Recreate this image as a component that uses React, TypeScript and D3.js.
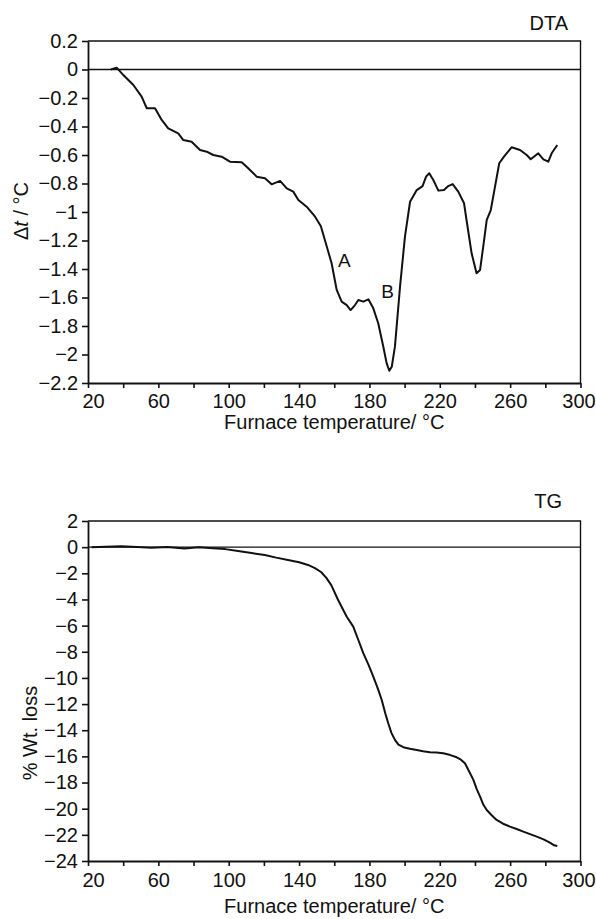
import React, { useEffect, useRef } from 'react';
import * as d3 from 'd3';

// DTA trace: furnace temperature (°C) vs Δt (°C)
const dtaTemp = [33, 36.3, 40.1, 45.8, 50.5, 53.4, 58.1, 61.9, 65.6, 71.3, 74.2, 78.9, 83.7, 87.5, 91.2, 96.0, 100.7, 107.4, 111.1, 115.9, 120.6, 124.4, 129.2, 133.0, 136.7, 139.6, 144.3, 149.1, 152.4, 155.7, 158.5, 161.4, 164.2, 167.1, 169.3, 171.8, 173.7, 176.5, 179.4, 182.2, 185.0, 187.9, 189.8, 191.3, 192.7, 194.5, 197.4, 200.2, 203.1, 206.9, 210.2, 212.2, 214.0, 216.3, 219.2, 222.4, 224.8, 227.3, 230.5, 233.8, 235.2, 238.1, 240.9, 242.9, 244.7, 246.7, 249.0, 251.4, 253.8, 256.5, 260.8, 265.6, 269.4, 271.7, 276.0, 278.9, 281.7, 283.6, 286.8];
const dtaDelta = [0, 0.013, -0.039, -0.109, -0.19, -0.272, -0.272, -0.354, -0.413, -0.448, -0.495, -0.507, -0.565, -0.577, -0.6, -0.612, -0.647, -0.651, -0.693, -0.752, -0.763, -0.806, -0.782, -0.834, -0.857, -0.916, -0.963, -1.033, -1.1, -1.24, -1.36, -1.547, -1.629, -1.653, -1.688, -1.653, -1.618, -1.629, -1.613, -1.676, -1.781, -1.945, -2.062, -2.114, -2.086, -1.945, -1.524, -1.173, -0.928, -0.846, -0.818, -0.752, -0.728, -0.775, -0.85, -0.846, -0.818, -0.804, -0.857, -0.939, -1.056, -1.29, -1.43, -1.407, -1.243, -1.056, -0.986, -0.822, -0.658, -0.612, -0.546, -0.565, -0.6, -0.63, -0.588, -0.63, -0.647, -0.588, -0.53];

// TG trace: furnace temperature (°C) vs % weight loss
const tgTemp = [22, 30, 38.9, 48, 56, 65, 74.8, 83, 91, 98, 105.3, 113, 120.5, 127, 133.7, 140, 145.1, 149, 152.5, 155.5, 158.3, 162.2, 167.1, 170.8, 173.7, 176.5, 179.5, 182.2, 185, 187.0, 189, 190.7, 192.5, 194.5, 196.5, 199.3, 203, 206.9, 210.5, 214.4, 218, 222.0, 226, 229.6, 232, 234.3, 236.5, 239.1, 241, 242.9, 244.8, 246.7, 249.5, 252.3, 256, 259.9, 263.7, 267.5, 271.3, 275.1, 279, 282.6, 285, 286.8];
const tgLoss = [0, 0.03, 0.07, 0.02, -0.04, 0.02, -0.1, 0.0, -0.09, -0.15, -0.3, -0.45, -0.6, -0.8, -0.98, -1.15, -1.36, -1.6, -1.9, -2.35, -2.9, -4.04, -5.32, -6.08, -7.1, -8.11, -9.0, -9.9, -10.9, -11.69, -12.7, -13.47, -14.2, -14.74, -15.1, -15.3, -15.42, -15.51, -15.6, -15.68, -15.7, -15.76, -15.9, -16.07, -16.25, -16.53, -17.1, -17.8, -18.5, -19.08, -19.7, -20.1, -20.5, -20.86, -21.15, -21.37, -21.55, -21.75, -21.95, -22.14, -22.35, -22.6, -22.8, -22.85];

// axes
const tempTicks = d3.range(20, 301, 20);
const dtaTicks = [0.2, 0, -0.2, -0.4, -0.6, -0.8, -1, -1.2, -1.4, -1.6, -1.8, -2, -2.2];
const tgTicks = [2, 0, -2, -4, -6, -8, -10, -12, -14, -16, -18, -20, -22, -24];

// peak annotations on the DTA trace
const peakLabels = ['A', 'B'];
const peakTemp = [165.8, 190.3];
const peakDelta = [-1.34, -1.56];

const FONT = '"Liberation Sans", Arial, Helvetica, sans-serif';

const App = () => {
  const svgRef = useRef<SVGSVGElement>(null);

  useEffect(() => {
    const svg = d3.select(svgRef.current);
    svg.selectAll('*').remove();

    const left = 88;
    const right = 580.5;

    const drawPanel = (opts: {
      top: number; bottom: number; yDomain: [number, number]; yTicks: number[];
      yFormat: (d: number) => string; xs: number[]; ys: number[];
      tag: string; tagX: number; tagY: number; xLabelY: number; xTitleY: number;
      yTitle: (g: any) => void;
    }) => {
      const x = d3.scaleLinear().domain([20, 300]).range([left, right]);
      const y = d3.scaleLinear().domain(opts.yDomain).range([opts.top, opts.bottom]);
      const g = svg.append('g');

      // frame: top and right edges
      g.append('path')
        .attr('d', `M${left},${opts.top}H${right}V${opts.bottom}`)
        .attr('fill', 'none').attr('stroke', '#111').attr('stroke-width', 1.4);

      // zero line
      g.append('line')
        .attr('x1', left).attr('x2', right)
        .attr('y1', y(0)).attr('y2', y(0))
        .attr('stroke', '#111').attr('stroke-width', 1.4);

      // y axis
      const yAxis = g.append('g')
        .attr('transform', `translate(${left},0)`)
        .call(d3.axisLeft(y).tickValues(opts.yTicks).tickFormat(opts.yFormat as any).tickSize(6).tickSizeOuter(0).tickPadding(4));
      yAxis.select('.domain').attr('stroke', '#111').attr('stroke-width', 1.8);
      yAxis.selectAll('line').attr('stroke', '#111').attr('stroke-width', 1.6);
      yAxis.selectAll('text').attr('font-family', FONT).attr('font-size', 20).attr('fill', '#111');

      // x axis
      const xAxis = g.append('g')
        .attr('transform', `translate(0,${opts.bottom})`)
        .call(d3.axisBottom(x).tickValues(tempTicks)
          .tickFormat((d: any) => ((d - 20) % 40 === 0 ? String(d) : ''))
          .tickSize(5).tickSizeOuter(0).tickPadding(4));
      xAxis.select('.domain').attr('stroke', '#111').attr('stroke-width', 1.8);
      xAxis.selectAll('line').attr('stroke', '#111').attr('stroke-width', 1.6);
      xAxis.selectAll('text')
        .attr('font-family', FONT).attr('font-size', 20).attr('fill', '#111')
        .attr('dy', null).attr('y', opts.xLabelY - opts.bottom)
        .attr('dx', (d: any) => (d === 20 ? 5 : d === 300 ? -2 : 0));

      // x title
      g.append('text')
        .attr('x', (left + right) / 2).attr('y', opts.xTitleY)
        .attr('text-anchor', 'middle')
        .attr('font-family', FONT).attr('font-size', 20).attr('fill', '#111')
        .text('Furnace temperature/ °C');

      // panel tag
      g.append('text')
        .attr('x', opts.tagX).attr('y', opts.tagY)
        .attr('text-anchor', 'end')
        .attr('font-family', FONT).attr('font-size', 20).attr('fill', '#111')
        .text(opts.tag);

      opts.yTitle(g);

      // trace
      const line = d3.line<number>()
        .x((d, i) => x(opts.xs[i]))
        .y(d => y(d))
        .curve(d3.curveLinear);
      g.append('path')
        .datum(opts.ys)
        .attr('d', line)
        .attr('fill', 'none')
        .attr('stroke', '#111')
        .attr('stroke-width', 2)
        .attr('stroke-linejoin', 'round');

      return { x, y, g };
    };

    const dta = drawPanel({
      top: 41, bottom: 383, yDomain: [0.2, -2.2], yTicks: dtaTicks,
      yFormat: d3.format('.1~f'), xs: dtaTemp, ys: dtaDelta,
      tag: 'DTA', tagX: 568, tagY: 30, xLabelY: 408, xTitleY: 429,
      yTitle: (g) => {
        const t = g.append('text')
          .attr('transform', 'translate(28,211) rotate(-90)')
          .attr('text-anchor', 'middle')
          .attr('font-family', FONT).attr('font-size', 20).attr('fill', '#111');
        t.append('tspan').text('Δ');
        t.append('tspan').attr('font-style', 'italic').text('t');
        t.append('tspan').text(' / °C');
      },
    });

    // A / B peak labels
    dta.g.selectAll('.peak')
      .data(peakLabels)
      .enter()
      .append('text')
      .attr('class', 'peak')
      .attr('x', (d, i) => dta.x(peakTemp[i]))
      .attr('y', (d, i) => dta.y(peakDelta[i]))
      .attr('dy', '0.35em')
      .attr('text-anchor', 'middle')
      .attr('font-family', FONT).attr('font-size', 19).attr('fill', '#111')
      .text(d => d);

    drawPanel({
      top: 521, bottom: 861, yDomain: [2, -24], yTicks: tgTicks,
      yFormat: d3.format('d'), xs: tgTemp, ys: tgLoss,
      tag: 'TG', tagX: 562, tagY: 508, xLabelY: 887, xTitleY: 913,
      yTitle: (g) => {
        g.append('text')
          .attr('transform', 'translate(37,733) rotate(-90)')
          .attr('text-anchor', 'middle')
          .attr('font-family', FONT).attr('font-size', 20).attr('fill', '#111')
          .text('% Wt. loss');
      },
    });
  }, []);

  return (
    <svg
      ref={svgRef}
      width={596}
      height={919}
      style={{ position: 'absolute', left: 0, top: 0, background: '#fff' }}
    />
  );
};

export default App;
